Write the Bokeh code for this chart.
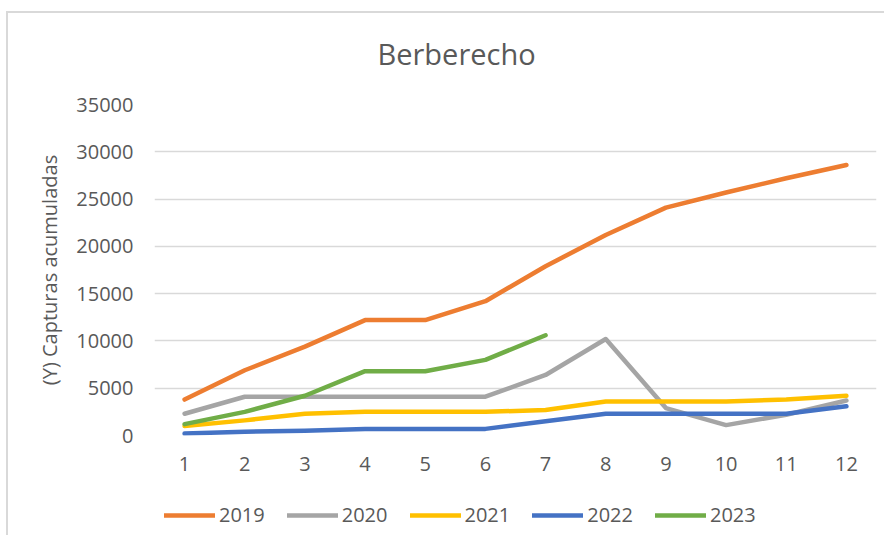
from bokeh.plotting import figure
from bokeh.layouts import column
from bokeh.models import Range1d, FixedTicker, Legend, LegendItem, NumeralTickFormatter
from bokeh.embed import file_html
from bokeh.resources import INLINE

# ---- data ----
title_text = "Berberecho"
y_label = "(Y) Capturas acumuladas"
months = [1, 2, 3, 4, 5, 6, 7, 8, 9, 10, 11, 12]
x_ticks = [1, 2, 3, 4, 5, 6, 7, 8, 9, 10, 11, 12]
y_ticks = [0, 5000, 10000, 15000, 20000, 25000, 30000, 35000]

series_names = ["2019", "2020", "2021", "2022", "2023"]
y2019 = [3800, 6900, 9400, 12200, 12200, 14200, 17900, 21200, 24100, 25700, 27200, 28600]
y2020 = [2300, 4100, 4100, 4100, 4100, 4100, 6400, 10200, 2900, 1100, 2200, 3700]
y2021 = [1000, 1600, 2300, 2500, 2500, 2500, 2700, 3600, 3600, 3600, 3800, 4200]
y2022 = [200, 400, 500, 700, 700, 700, 1500, 2300, 2300, 2300, 2300, 3100]
y2023 = [1200, 2500, 4200, 6800, 6800, 8000, 10600]
colors = ["#ED7D31", "#A5A5A5", "#FFC000", "#4472C4", "#70AD47"]

FONT = "Open Sans"
TXT = "#595959"
BORDER = "#d9d9d9"
LW = 4.5

p = figure(width=884, height=475, output_backend="svg", toolbar_location=None,
           x_range=Range1d(0.5, 12.5), y_range=Range1d(0, 35000),
           min_border_left=154, min_border_right=8, min_border_top=104,
           min_border_bottom=40, title=title_text)
p.styles = {
    "background-image": f"linear-gradient({BORDER}, {BORDER}), linear-gradient({BORDER}, {BORDER})",
    "background-size": "100% 2px, 2px 100%",
    "background-position": "6px 11px, 6px 11px",
    "background-repeat": "no-repeat",
}

p.title.align = "left"
p.title.offset = 223
p.title.text_font = FONT
p.title.text_font_size = "29px"
p.title.text_font_style = "normal"
p.title.text_color = TXT
p.title.standoff = 63

p.outline_line_color = None
p.background_fill_color = "white"
p.border_fill_alpha = 0

p.xaxis.ticker = FixedTicker(ticks=x_ticks)
p.yaxis.ticker = FixedTicker(ticks=y_ticks)
p.yaxis.formatter = NumeralTickFormatter(format="0")
for ax in (p.xaxis, p.yaxis):
    ax.axis_line_color = None
    ax.major_tick_line_color = None
    ax.minor_tick_line_color = None
    ax.major_label_text_font = FONT
    ax.major_label_text_font_size = "20px"
    ax.major_label_text_color = TXT
p.xaxis.major_label_standoff = 15
p.yaxis.major_label_standoff = 15
p.yaxis.axis_label = y_label
p.yaxis.axis_label_text_font = FONT
p.yaxis.axis_label_text_font_size = "20px"
p.yaxis.axis_label_text_font_style = "normal"
p.yaxis.axis_label_text_color = TXT
p.yaxis.axis_label_standoff = 10

p.xgrid.grid_line_color = None
p.ygrid.grid_line_color = BORDER
p.ygrid.grid_line_width = 1.5

all_series = [y2019, y2020, y2021, y2022, y2023]
for vals, col in zip(all_series, colors):
    p.line(months[:len(vals)], vals, line_color=col, line_width=LW,
           line_cap="round", line_join="round")

# legend strip (its lines lie outside its tiny ranges, only the legend shows)
p2 = figure(width=884, height=60, output_backend="svg", toolbar_location=None,
            x_range=Range1d(0, 1), y_range=Range1d(0, 1),
            x_axis_location=None, y_axis_location=None,
            min_border_left=36, min_border_right=0,
            min_border_top=16, min_border_bottom=3)
p2.styles = {
    "background-image": f"linear-gradient({BORDER}, {BORDER})",
    "background-size": "2px 100%",
    "background-position": "6px 0px",
    "background-repeat": "no-repeat",
}
p2.outline_line_color = None
p2.grid.visible = False
p2.border_fill_alpha = 0
p2.background_fill_alpha = 0

items = []
for name, vals, col in zip(series_names, all_series, colors):
    r2 = p2.line(months[:len(vals)], vals, line_color=col, line_width=LW,
                 line_cap="round")
    items.append(LegendItem(label=name, renderers=[r2]))

legend = Legend(items=items, orientation="horizontal", location=(10, 4),
                glyph_width=51, glyph_height=20, label_standoff=4, spacing=22,
                label_text_font=FONT, label_text_font_size="20px",
                label_text_color=TXT, border_line_color=None,
                background_fill_alpha=0, margin=0, padding=6)
p2.add_layout(legend, "center")

layout = column(p, p2, spacing=0)
open("out.html", "w").write(file_html(layout, INLINE))
